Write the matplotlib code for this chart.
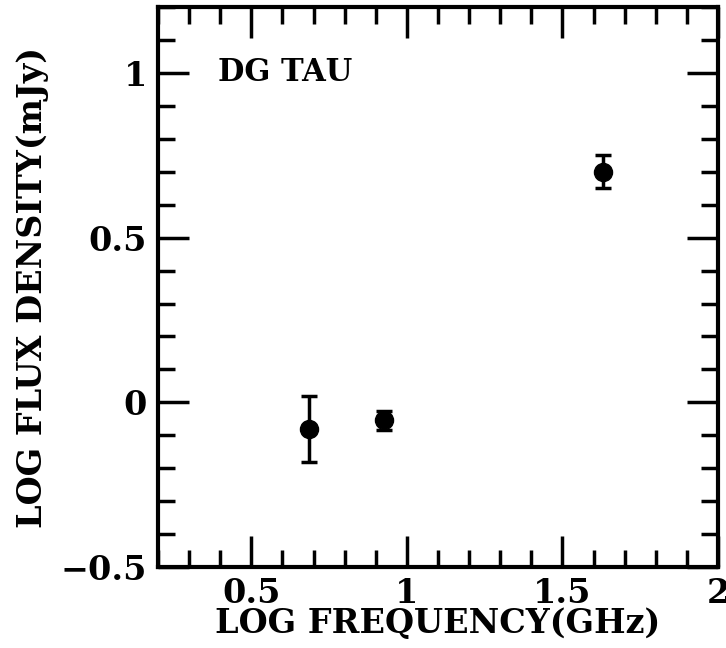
import numpy as np
import matplotlib.pyplot as plt
from matplotlib.ticker import MultipleLocator

# Datos
log_freq = [0.687, 0.926, 1.629]
log_flux = [-0.08, -0.055, 0.70]
err_flux = [0.10, 0.03, 0.05]

fuente = {'family': 'DejaVu Serif', 'weight': 'bold'}

fig = plt.figure(figsize=(7.26, 6.48), dpi=100)
ax = fig.add_axes([0.2176, 0.125, 0.989 - 0.2176, 0.989 - 0.125])

ax.errorbar(log_freq, log_flux, yerr=err_flux, fmt='o', color='black',
            markersize=13, elinewidth=2.5, capsize=5.5, capthick=2.5)

ax.set_xlim(0.2, 2.0)
ax.set_ylim(-0.5, 1.2)
ax.xaxis.set_minor_locator(MultipleLocator(0.1))
ax.yaxis.set_minor_locator(MultipleLocator(0.1))
ax.set_xticks([0.5, 1.0, 1.5, 2.0])
ax.set_xticklabels(['0.5', '1', '1.5', '2'])
ax.set_yticks([-0.5, 0, 0.5, 1])
ax.set_yticklabels(['\u22120.5', '0', '0.5', '1'])

ax.tick_params(which='both', direction='in', top=True, right=True, width=2.5)
ax.tick_params(which='major', length=22)
ax.tick_params(which='minor', length=12)
ax.tick_params(axis='x', which='major', pad=7)
ax.tick_params(axis='y', which='major', pad=8)
for lab in ax.get_xticklabels() + ax.get_yticklabels():
    lab.set_fontfamily('DejaVu Serif')
    lab.set_fontweight('bold')
    lab.set_fontsize(24)
for s in ax.spines.values():
    s.set_linewidth(3)

ax.text(0.394, 1.0, 'DG TAU', fontdict=fuente, fontsize=22, va='center')
ax.set_xlabel('LOG FREQUENCY(GHz)', fontdict=fuente, fontsize=24, labelpad=-2)
ax.set_ylabel('LOG FLUX DENSITY(mJy)', fontdict=fuente, fontsize=24, labelpad=8)

fig.savefig('out.png', dpi=100)
